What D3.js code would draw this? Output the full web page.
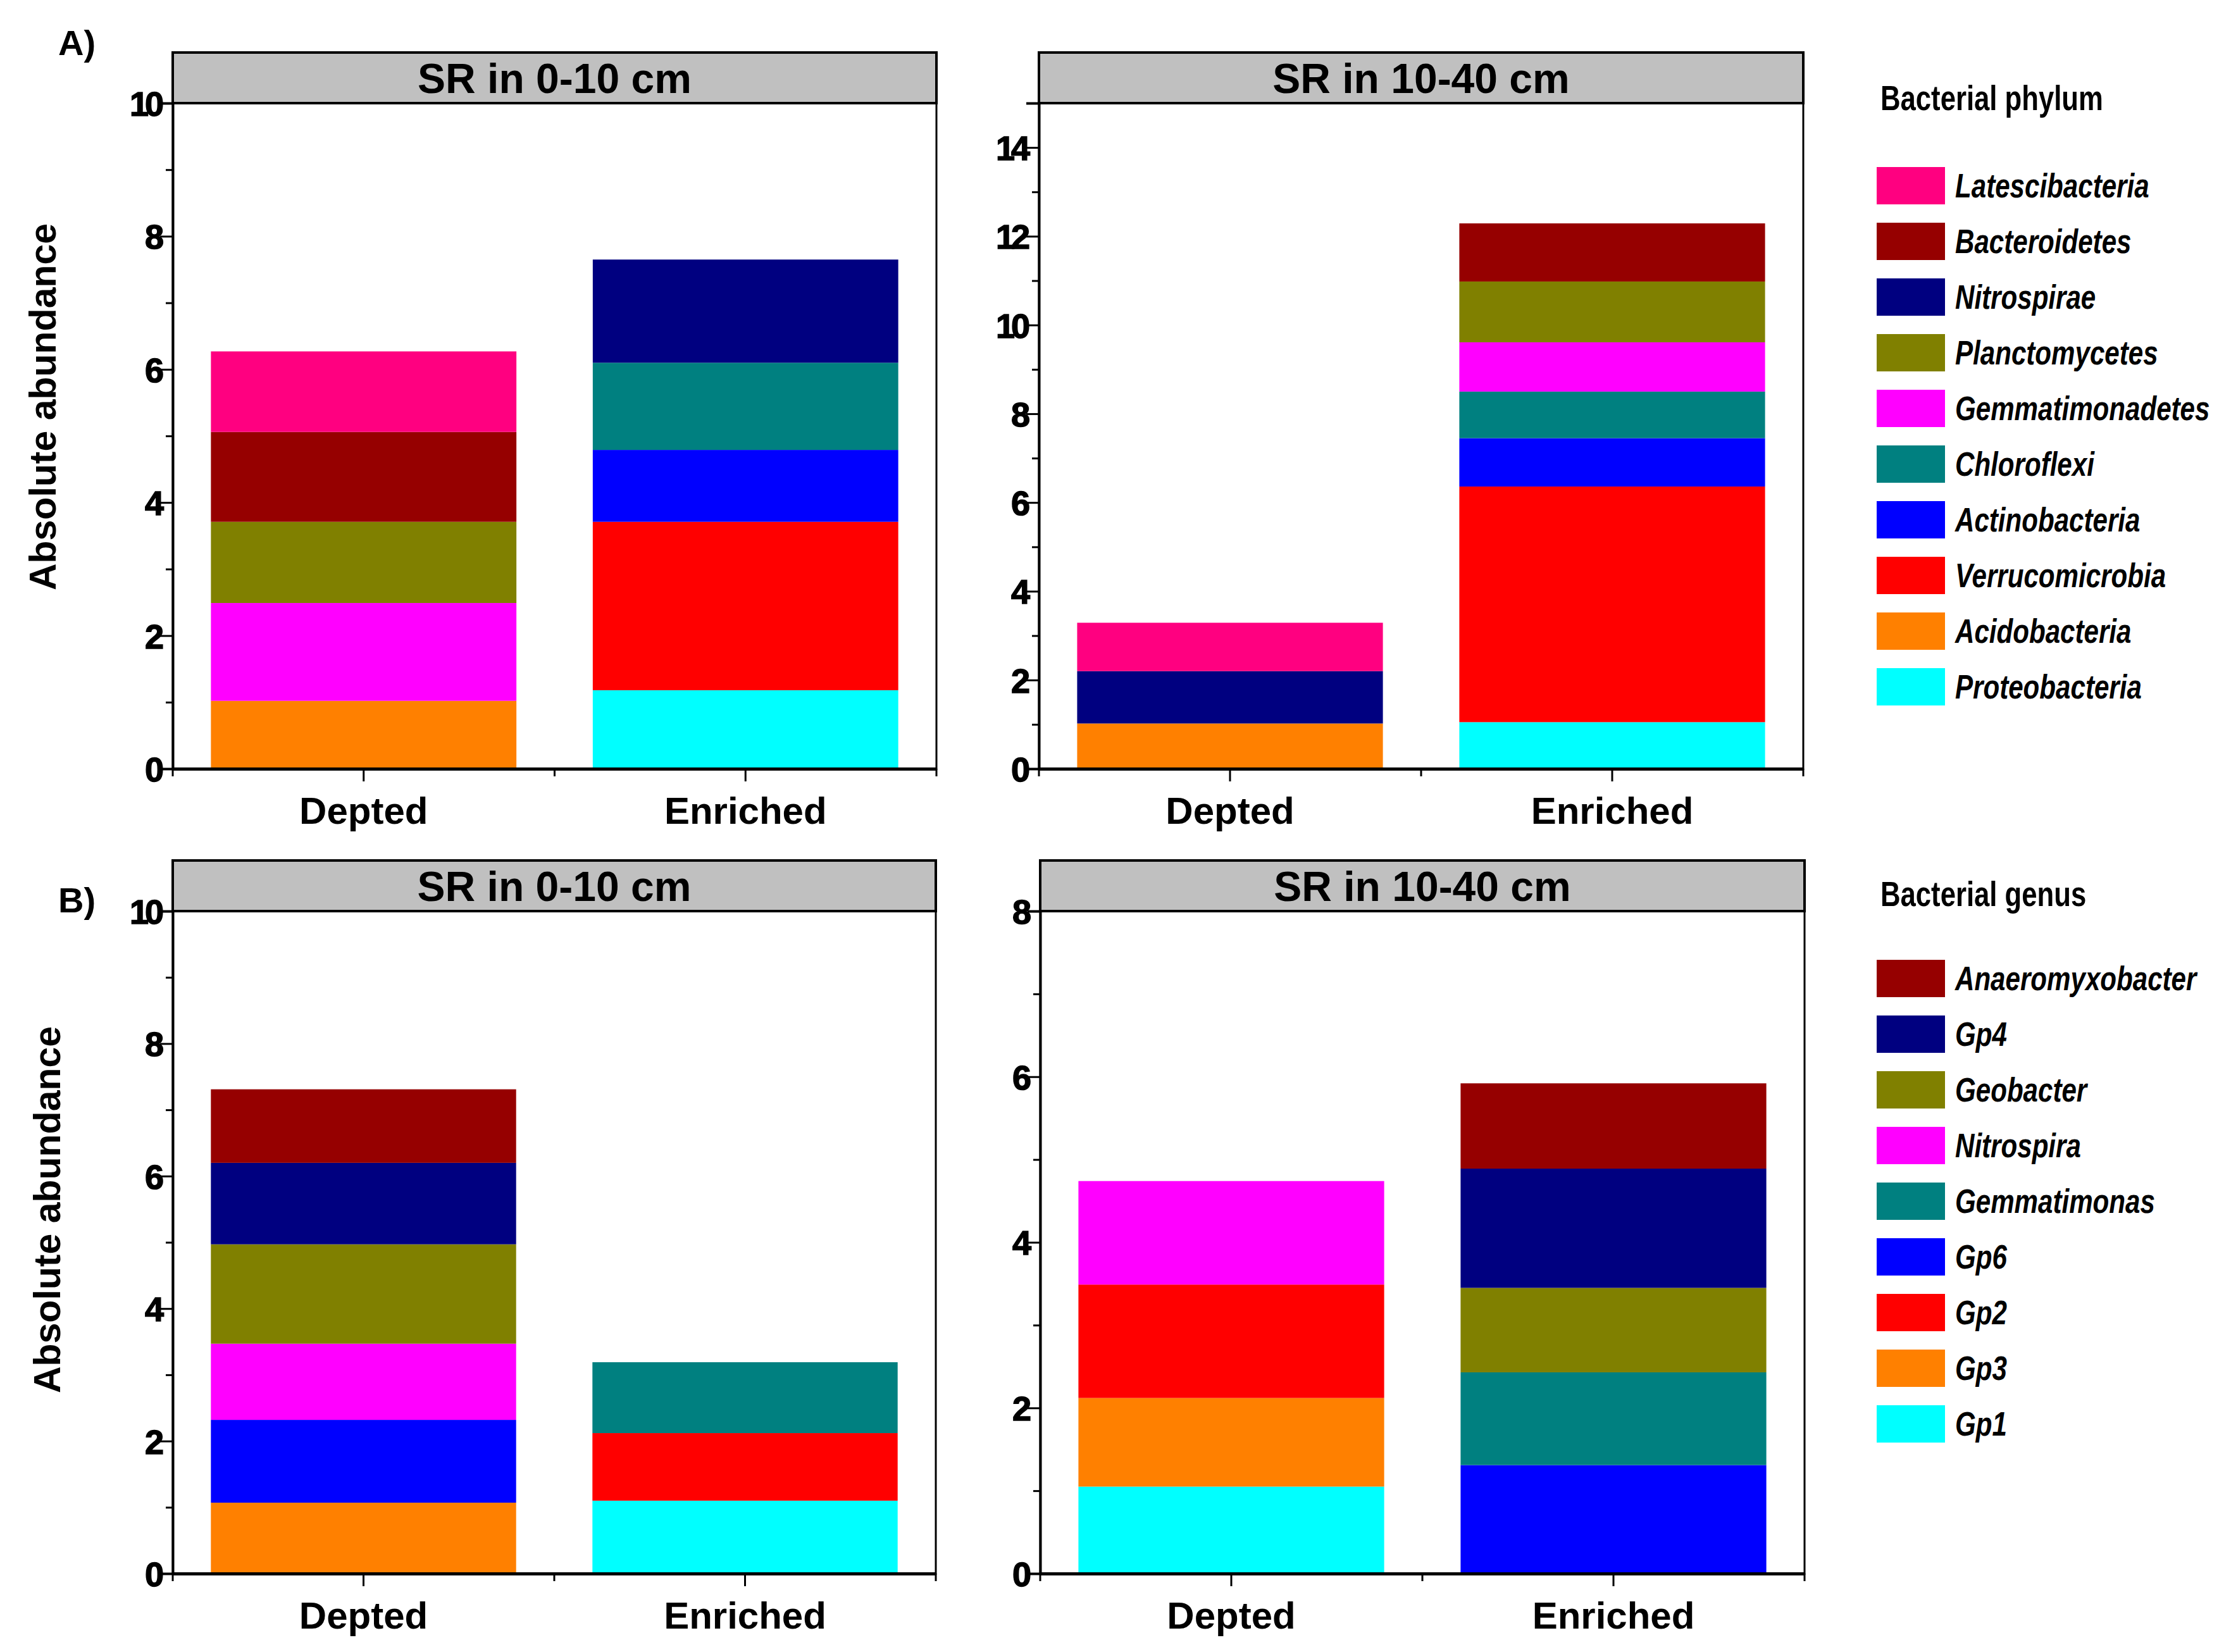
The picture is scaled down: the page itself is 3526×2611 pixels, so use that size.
<!DOCTYPE html>
<html>
<head>
<meta charset="utf-8">
<script src="https://cdn.jsdelivr.net/npm/d3@7"></script>
<style>
  body { margin: 0; background: #fff; }
  svg text { font-family: "Liberation Sans", Arial, sans-serif; }
</style>
</head>
<body>
<div id="chart"></div>
<script>
// samples on the x axis
const samples = ["Depted", "Enriched"]

// phylum level, stacked bottom -> top
const phyla = ["Proteobacteria", "Acidobacteria", "Verrucomicrobia", "Actinobacteria", "Chloroflexi",
    "Gemmatimonadetes", "Planctomycetes", "Nitrospirae", "Bacteroidetes", "Latescibacteria"]
const phylumColors = ["#00ffff", "#ff8000", "#ff0000", "#0000ff", "#008080",
    "#ff00ff", "#808000", "#000080", "#960000", "#ff0080"]
// values in phyla order
const phylumTopDepted   = [0, 1.02, 0, 0, 0, 1.47, 1.22, 0, 1.35, 1.21]
const phylumTopEnriched = [1.18, 0, 2.53, 1.08, 1.31, 0, 0, 1.55, 0, 0]
const phylumSubDepted   = [0, 1.02, 0, 0, 0, 0, 0, 1.18, 0, 1.09]
const phylumSubEnriched = [1.05, 0, 5.31, 1.09, 1.05, 1.11, 1.37, 0, 1.31, 0]

// genus level, stacked bottom -> top
const genera = ["Gp1", "Gp3", "Gp2", "Gp6", "Gemmatimonas", "Nitrospira", "Geobacter", "Gp4", "Anaeromyxobacter"]
const genusColors = ["#00ffff", "#ff8000", "#ff0000", "#0000ff", "#008080", "#ff00ff", "#808000", "#000080", "#960000"]
const genusTopDepted   = [0, 1.07, 0, 1.25, 0, 1.15, 1.50, 1.23, 1.11]
const genusTopEnriched = [1.10, 0, 1.02, 0, 1.07, 0, 0, 0, 0]
const genusSubDepted   = [1.05, 1.07, 1.37, 0, 0, 1.25, 0, 0, 0]
const genusSubEnriched = [0, 0, 0, 1.31, 1.12, 0, 1.02, 1.44, 1.03]

// axis ticks
const ticksTen = [0, 2, 4, 6, 8, 10]
const ticksFifteen = [0, 2, 4, 6, 8, 10, 12, 14]
const ticksEight = [0, 2, 4, 6, 8]

const W = 3526, H = 2611
const narrow = 0.78   // squeeze for the Arial Narrow look of the legends

const svg = d3.select("#chart")
    .append("svg")
    .attr("width", W)
    .attr("height", H)
    .attr("viewBox", [0, 0, W, H])

function rowsFor(keys, depted, enriched) {
    return [depted, enriched].map((vals, i) => {
        const row = { sample: samples[i] }
        keys.forEach((k, j) => row[k] = vals[j])
        return row
    })
}

function drawPanel(p) {
    const g = svg.append("g")

    const x = d3.scaleBand()
        .domain(samples)
        .range([p.left, p.right])
        .paddingInner(0.2)
        .paddingOuter(0.1)

    const y = d3.scaleLinear()
        .domain([0, p.max])
        .range([p.bottom, p.top])

    const color = d3.scaleOrdinal().domain(p.keys).range(p.colors)
    const series = d3.stack().keys(p.keys)(rowsFor(p.keys, p.depted, p.enriched))

    g.selectAll("g.layer")
        .data(series)
        .join("g")
        .attr("class", "layer")
        .attr("fill", d => color(d.key))
        .selectAll("rect")
        .data(d => d)
        .join("rect")
        .attr("x", d => x(d.data.sample))
        .attr("width", x.bandwidth())
        .attr("y", d => y(d[1]))
        .attr("height", d => Math.max(0, y(d[0]) - y(d[1])))

    // frame
    g.append("rect")
        .attr("x", p.left).attr("y", p.top)
        .attr("width", p.right - p.left).attr("height", p.bottom - p.top)
        .attr("fill", "none").attr("stroke", "#000").attr("stroke-width", 3)

    // strip with title
    g.append("rect")
        .attr("x", p.left).attr("y", p.top - 80)
        .attr("width", p.right - p.left).attr("height", 80)
        .attr("fill", "#c0c0c0").attr("stroke", "#000").attr("stroke-width", 4)
    g.append("text")
        .attr("x", (p.left + p.right) / 2)
        .attr("y", p.top - 16)
        .attr("text-anchor", "middle")
        .attr("font-size", 66).attr("font-weight", "bold")
        .text(p.title)

    // y axis, minor ticks then labelled ticks
    const minor = d3.range(1, p.max, 2)
    g.append("g")
        .attr("transform", `translate(${p.left},0)`)
        .call(d3.axisLeft(y).tickValues(minor).tickSize(11).tickFormat(""))
        .call(a => a.select(".domain").remove())
        .selectAll("line").attr("stroke-width", 3)
    const yAxis = g.append("g")
        .attr("transform", `translate(${p.left},0)`)
        .call(d3.axisLeft(y).tickValues(p.ticks).tickSize(20).tickPadding(0))
    yAxis.select(".domain").attr("stroke-width", 4)
    yAxis.selectAll("line").attr("stroke-width", 3)
    yAxis.selectAll("text")
        .attr("font-size", 54).attr("font-weight", "bold")
        .attr("letter-spacing", -6)
        .attr("fill", "#000")
        .attr("stroke", "#000").attr("stroke-width", 1.5)
        .attr("dy", "0.36em")

    // x axis: long ticks at sample centres, short ones on band edges
    const xAxis = g.append("g")
        .attr("transform", `translate(0,${p.bottom})`)
        .call(d3.axisBottom(x).tickSize(20).tickPadding(24).tickSizeOuter(0))
    xAxis.select(".domain").attr("stroke-width", 5)
    xAxis.selectAll("line").attr("stroke-width", 3)
    xAxis.selectAll("text")
        .attr("font-size", 60).attr("font-weight", "bold")
        .attr("fill", "#000")
    const edges = [p.left, (p.left + p.right) / 2, p.right]
    g.selectAll("line.edge")
        .data(edges)
        .join("line")
        .attr("class", "edge")
        .attr("x1", d => d).attr("x2", d => d)
        .attr("y1", p.bottom).attr("y2", p.bottom + 12)
        .attr("stroke", "#000").attr("stroke-width", 3)

    if (p.yLabel) {
        g.append("text")
            .attr("transform", `translate(${p.labelX},${p.labelY}) rotate(-90)`)
            .attr("text-anchor", "middle")
            .attr("font-size", 59).attr("font-weight", "bold")
            .text(p.yLabel)
    }
}

function drawLegend(l) {
    const g = svg.append("g").attr("transform", `translate(${l.x},${l.y})`)
    g.append("text")
        .attr("transform", `translate(6,0) scale(${narrow},1)`)
        .attr("font-size", 56).attr("font-weight", "bold")
        .text(l.title)
    const items = l.keys.map((k, i) => ({ key: k, color: l.colors[i] })).reverse()
    const row = g.selectAll("g.item")
        .data(items)
        .join("g")
        .attr("class", "item")
        .attr("transform", (d, i) => `translate(0,${l.first + i * 88})`)
    row.append("rect")
        .attr("width", 108).attr("height", 59)
        .attr("fill", d => d.color)
    row.append("text")
        .attr("transform", `translate(124,48) scale(${narrow},1)`)
        .attr("font-size", 54).attr("font-weight", "bold").attr("font-style", "italic")
        .text(d => d.key)
}

drawPanel({ left: 273, right: 1480, top: 163, bottom: 1215, max: 10, ticks: ticksTen,
    title: "SR in 0-10 cm", keys: phyla, colors: phylumColors,
    depted: phylumTopDepted, enriched: phylumTopEnriched,
    yLabel: "Absolute abundance", labelX: 88, labelY: 643 })
drawPanel({ left: 1642, right: 2850, top: 163, bottom: 1215, max: 15, ticks: ticksFifteen,
    title: "SR in 10-40 cm", keys: phyla, colors: phylumColors,
    depted: phylumSubDepted, enriched: phylumSubEnriched })
drawPanel({ left: 273, right: 1479, top: 1440, bottom: 2487, max: 10, ticks: ticksTen,
    title: "SR in 0-10 cm", keys: genera, colors: genusColors,
    depted: genusTopDepted, enriched: genusTopEnriched,
    yLabel: "Absolute abundance", labelX: 95, labelY: 1912 })
drawPanel({ left: 1644, right: 2852, top: 1440, bottom: 2487, max: 8, ticks: ticksEight,
    title: "SR in 10-40 cm", keys: genera, colors: genusColors,
    depted: genusSubDepted, enriched: genusSubEnriched })

drawLegend({ x: 2966, y: 174, first: 90, title: "Bacterial phylum", keys: phyla, colors: phylumColors })
drawLegend({ x: 2966, y: 1432, first: 85, title: "Bacterial genus", keys: genera, colors: genusColors })

svg.append("text").attr("x", 92).attr("y", 87)
    .attr("font-size", 56).attr("font-weight", "bold").text("A)")
svg.append("text").attr("x", 92).attr("y", 1442)
    .attr("font-size", 56).attr("font-weight", "bold").text("B)")
</script>
</body>
</html>
